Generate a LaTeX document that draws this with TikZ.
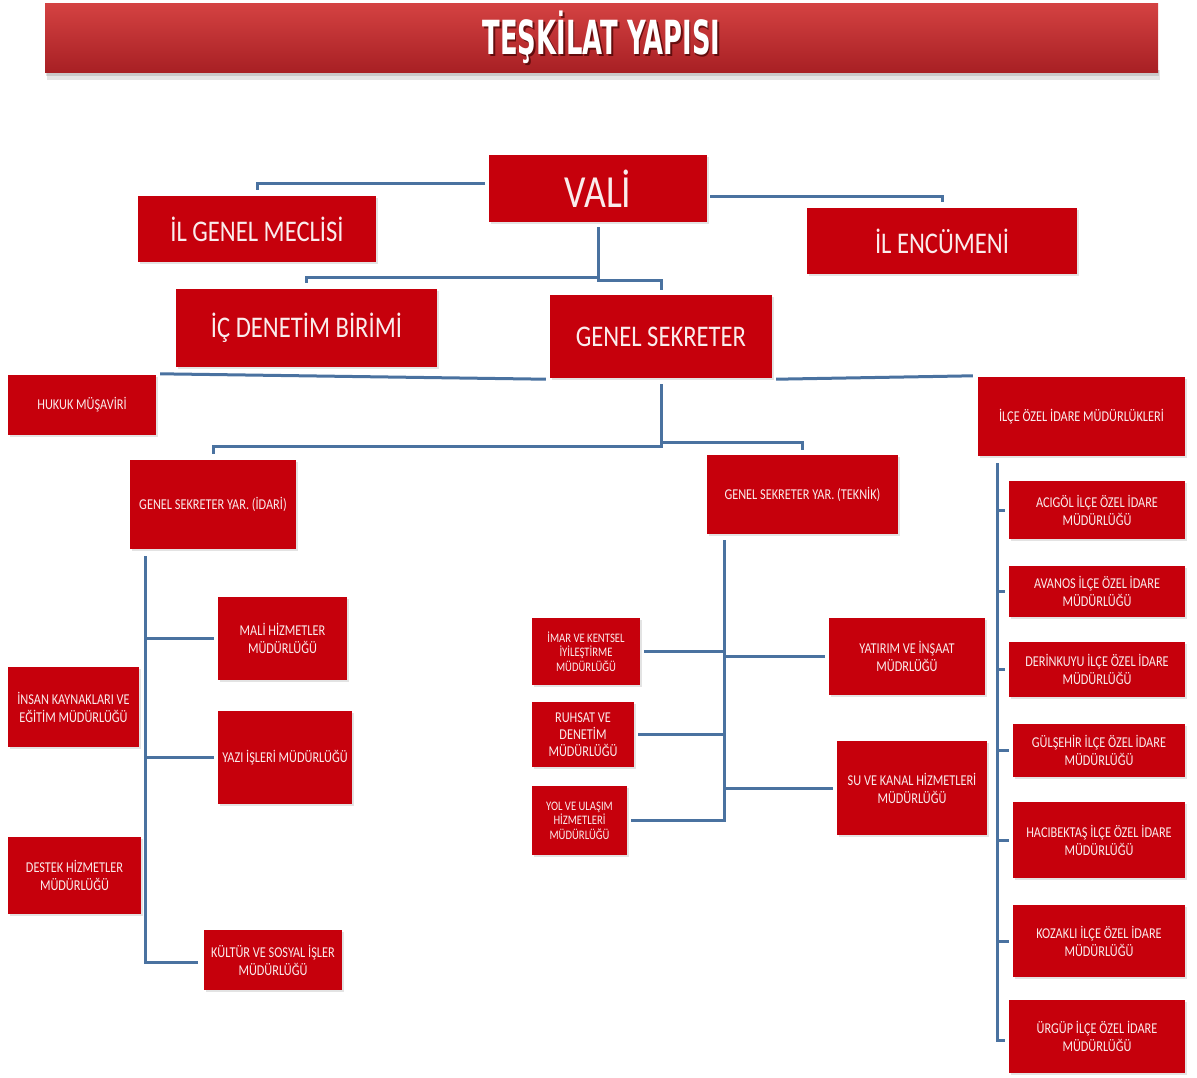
\documentclass[tikz,border=0pt]{standalone}
\usepackage{fontspec}
\setmainfont{Carlito}
\newfontfamily\boxfont[FakeStretch=0.82]{Carlito}
\newfontfamily\titlefont[FakeStretch=0.55]{DejaVu Sans Bold}
\usetikzlibrary{shadows}
\definecolor{boxred}{RGB}{198,0,12}
\definecolor{boxtxt}{RGB}{250,236,236}
\definecolor{connc}{RGB}{74,114,160}
\definecolor{bantop}{RGB}{212,66,66}
\definecolor{banbot}{RGB}{168,32,36}
\tikzset{
  orgbox/.style={fill=boxred, text=boxtxt, inner sep=2pt, align=center,
    font=\boxfont\fontsize{15}{18}\selectfont,
    drop shadow={opacity=0.22, shadow xshift=1.5pt, shadow yshift=-1.5pt}},
  bigtxt/.style={font=\boxfont\fontsize{30}{34}\selectfont},
  tinytxt/.style={font=\boxfont\fontsize{13}{14.5}\selectfont},
  link/.style={draw=connc, line width=3pt},
}
\begin{document}
\begin{tikzpicture}[x=1pt,y=-1pt]
\useasboundingbox (0,0) rectangle (1197,1077);
\fill[white] (0,0) rectangle (1197,1077);

% title banner
\fill[black,opacity=0.10] (47,70) rectangle (1160,80);
\fill[black,opacity=0.12] (46,70) rectangle (1159,76);
\node[minimum width=1113pt, minimum height=69pt, inner sep=0pt,
      top color=bantop, bottom color=banbot] (banner) at (601.5,37.5) {};
\node[text=black!75!red, opacity=0.7] at ([xshift=1.5pt,yshift=-1.5pt]banner.center)
  {\titlefont\fontsize{47}{50}\selectfont TEŞKİLAT YAPISI};
\node[text=white] (title) at (banner.center)
  {\titlefont\fontsize{47}{50}\selectfont TEŞKİLAT YAPISI};

% top level
\node[orgbox, font=\boxfont\fontsize{46}{50}\selectfont, minimum width=218pt, minimum height=67pt] (vali) at (598,188.5) {VALİ};
\node[orgbox, bigtxt, minimum width=238pt, minimum height=66pt] (igm) at (257,229) {İL GENEL MECLİSİ};
\node[orgbox, bigtxt, minimum width=270pt, minimum height=66pt] (enc) at (942,241) {İL ENCÜMENİ};
\node[orgbox, bigtxt, minimum width=261pt, minimum height=78pt] (icd) at (306.5,328) {İÇ DENETİM BİRİMİ};
\node[orgbox, bigtxt, minimum width=222pt, minimum height=83pt] (gs) at (661,336.5) {GENEL SEKRETER};

\node[orgbox, minimum width=148pt, minimum height=60pt] (huk) at (82,405) {HUKUK MÜŞAVİRİ};
\node[orgbox, minimum width=207pt, minimum height=79pt] (ilce) at (1081.5,416.5) {İLÇE ÖZEL İDARE MÜDÜRLÜKLERİ};
\node[orgbox, minimum width=166pt, minimum height=89pt] (idr) at (213,504.5) {GENEL SEKRETER YAR. (İDARİ)};
\node[orgbox, minimum width=191pt, minimum height=79pt] (tek) at (802.5,494.5) {GENEL SEKRETER YAR. (TEKNİK)};

% idari
\node[orgbox, minimum width=129pt, minimum height=83pt] (mali) at (282.5,638.5) {MALİ HİZMETLER\\MÜDÜRLÜĞÜ};
\node[orgbox, minimum width=131pt, minimum height=80pt] (ik) at (73.5,707) {İNSAN KAYNAKLARI VE\\EĞİTİM MÜDÜRLÜĞÜ};
\node[orgbox, minimum width=134pt, minimum height=93pt, inner sep=0pt] (yazi) at (285,757.5) {YAZI İŞLERİ MÜDÜRLÜĞÜ};
\node[orgbox, minimum width=133pt, minimum height=77pt] (destek) at (74.5,875.5) {DESTEK HİZMETLER\\MÜDÜRLÜĞÜ};
\node[orgbox, minimum width=138pt, minimum height=60pt] (kultur) at (273,960) {KÜLTÜR VE SOSYAL İŞLER\\MÜDÜRLÜĞÜ};

% teknik
\node[orgbox, tinytxt, minimum width=108pt, minimum height=67pt] (imar) at (586,651.5) {İMAR VE KENTSEL\\İYİLEŞTİRME\\MÜDÜRLÜĞÜ};
\node[orgbox, font=\boxfont\fontsize{15}{17}\selectfont, minimum width=102pt, minimum height=65pt] (ruhsat) at (583,734.5) {RUHSAT VE\\DENETİM\\MÜDÜRLÜĞÜ};
\node[orgbox, tinytxt, minimum width=95pt, minimum height=69pt] (yol) at (579.5,820.5) {YOL VE ULAŞIM\\HİZMETLERİ\\MÜDÜRLÜĞÜ};
\node[orgbox, minimum width=156pt, minimum height=77pt] (yat) at (907,656.5) {YATIRIM VE İNŞAAT\\MÜDRLÜĞÜ};
\node[orgbox, minimum width=150pt, minimum height=94pt] (su) at (912,788) {SU VE KANAL HİZMETLERİ\\MÜDÜRLÜĞÜ};

% ilce
\node[orgbox, minimum width=176pt, minimum height=58pt] (acigol) at (1097,510) {ACIGÖL İLÇE ÖZEL İDARE\\MÜDÜRLÜĞÜ};
\node[orgbox, minimum width=176pt, minimum height=51pt] (avanos) at (1097,591.5) {AVANOS İLÇE ÖZEL İDARE\\MÜDÜRLÜĞÜ};
\node[orgbox, minimum width=176pt, minimum height=55pt] (derinkuyu) at (1097,669.5) {DERİNKUYU İLÇE ÖZEL İDARE\\MÜDÜRLÜĞÜ};
\node[orgbox, minimum width=172pt, minimum height=53pt] (gulsehir) at (1099,750.5) {GÜLŞEHİR İLÇE ÖZEL İDARE\\MÜDÜRLÜĞÜ};
\node[orgbox, minimum width=172pt, minimum height=76pt] (haci) at (1099,840) {HACIBEKTAŞ İLÇE ÖZEL İDARE\\MÜDÜRLÜĞÜ};
\node[orgbox, minimum width=172pt, minimum height=72pt] (kozakli) at (1099,941) {KOZAKLI İLÇE ÖZEL İDARE\\MÜDÜRLÜĞÜ};
\node[orgbox, minimum width=176pt, minimum height=73pt] (urgup) at (1097,1036.5) {ÜRGÜP İLÇE ÖZEL İDARE\\MÜDÜRLÜĞÜ};

% connectors: top
\draw[link] ([xshift=-4pt,yshift=5.5pt]vali.west) -| ([yshift=6pt]igm.north);
\draw[link] ([xshift=3pt,yshift=-7.5pt]vali.east) -| ([yshift=6pt]enc.north);
\draw[link] ([yshift=-5pt]vali.south) -- ([yshift=-58pt]vali.south) -| ([yshift=5pt]gs.north);
\draw[link] ([yshift=-55pt]vali.south) -| ([yshift=6pt]icd.north);

% genel sekreter
\draw[link] ([xshift=-4pt,yshift=-1pt]gs.south west) -- ([xshift=4pt,yshift=1pt]huk.north east);
\draw[link] ([xshift=4pt,yshift=-1pt]gs.south east) -- ([xshift=-5pt,yshift=1pt]ilce.north west);
\draw[link] ([yshift=-6pt]gs.south) -- ([yshift=-68pt]gs.south) -| ([yshift=6pt]idr.north);
\draw[link] ([yshift=-64pt]gs.south) -| ([yshift=5pt]tek.north);

% idari spine
\coordinate (is) at ([xshift=16pt,yshift=-7pt]idr.south west);
\draw[link] (is) |- ([xshift=-6pt,yshift=-2pt]kultur.west);
\draw[link] (is |- mali.west) -- ([xshift=-4pt]mali.west);
\draw[link] (is |- yazi.west) -- ([xshift=-4pt]yazi.west);

% teknik spine
\coordinate (ts) at ([xshift=18pt,yshift=-6pt]tek.south west);
\draw[link] (ts) |- ([xshift=4pt]yol.east);
\draw[link] (ts |- imar.east) -- ([xshift=4pt]imar.east);
\draw[link] (ts |- ruhsat.east) -- ([xshift=4pt]ruhsat.east);
\draw[link] (ts |- yat.west) -- ([xshift=-4pt]yat.west);
\draw[link] (ts |- su.west) -- ([xshift=-4pt]su.west);

% ilce spine
\coordinate (ils) at ([xshift=20pt,yshift=-7pt]ilce.south west);
\draw[link] (ils) |- ([xshift=-4pt,yshift=-4pt]urgup.west);
\foreach \b in {acigol,avanos,derinkuyu,gulsehir,haci,kozakli}
  \draw[link] (ils |- \b.west) -- ([xshift=-4pt]\b.west);
\end{tikzpicture}
\end{document}
